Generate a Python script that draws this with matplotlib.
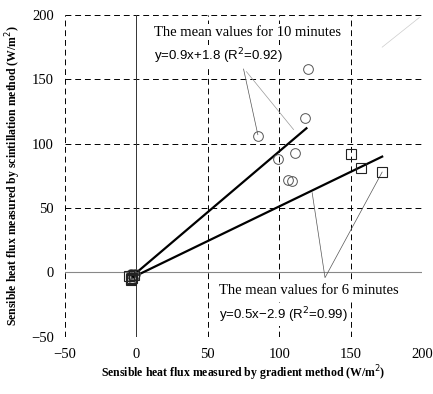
import matplotlib
matplotlib.use("Agg")
import matplotlib.pyplot as plt

# mean values for 10 minutes (circles)
x10 = [120, 118, 85, 111, 99, 106, 109, -3, -2, -4, -1, -3]
y10 = [158, 120, 106, 93, 88, 72, 71, -2, -3, -1, -1, -4]
# mean values for 6 minutes (squares)
x6 = [150, 157, 172, -4, -3, -5, -2, -4]
y6 = [92, 81, 78, -5, -4, -3, -2, -6]

# regression line end points as drawn
fit10_x = [-3, 119]
fit10_y = [-3, 112]
fit6_x = [-3, 172]
fit6_y = [-4, 90]

ticks = [-50, 0, 50, 100, 150, 200]

serif = "Liberation Serif"
sans = "Liberation Sans"

fig = plt.figure(figsize=(4.33, 3.94), dpi=100)
ax = fig.add_axes([0.150, 0.145, 0.825, 0.817])
ax.set_xlim(-50, 200)
ax.set_ylim(-50, 200)
for s in ax.spines.values():
    s.set_visible(False)

# dashed grid incl. the frame
for t in ticks:
    if t == 0:
        continue
    ax.axvline(t, color="black", lw=0.7, ls=(0, (6, 4)), zorder=1)
    ax.axhline(t, color="black", lw=0.7, ls=(0, (6, 4)), zorder=1)
ax.axvline(0, color="#333333", lw=0.7, zorder=1)
ax.axhline(0, color="#888888", lw=0.8, zorder=1)

# leader lines
ax.plot([75, 85], [158, 107], color="#555555", lw=0.5, zorder=2)
ax.plot([77, 110], [156, 111], color="#999999", lw=0.5, zorder=2)
ax.plot([123, 132, 172], [62, -4, 78], color="#555555", lw=0.5, zorder=2)
ax.plot([198, 172], [198, 175], color="#cccccc", lw=0.5, zorder=2)

ax.plot(fit10_x, fit10_y, color="black", lw=1.6, zorder=3)
ax.plot(fit6_x, fit6_y, color="black", lw=1.6, zorder=3)

ax.plot(x10, y10, "o", ms=7, mfc="none", mec="#555555", mew=0.7, zorder=4)
ax.plot(x6, y6, "s", ms=7, mfc="none", mec="#222222", mew=0.8, zorder=4)

box = dict(facecolor="white", edgecolor="none", pad=1)
ax.text(12, 184, "The mean values for 10 minutes", family=serif, fontsize=10.5,
        bbox=box, zorder=5)
ax.text(12, 165, "y=0.9x+1.8 (R$^2$=0.92)", family=sans, fontsize=9.5,
        bbox=box, zorder=5)
ax.text(58, -17, "The mean values for 6 minutes", family=serif, fontsize=10.5,
        bbox=box, zorder=5)
ax.text(58, -36, "y=0.5x\u22122.9 (R$^2$=0.99)", family=sans, fontsize=9.5,
        bbox=box, zorder=5)

ax.set_xticks(ticks)
ax.set_yticks(ticks)
ax.tick_params(length=0, pad=8)
for lab in ax.get_xticklabels() + ax.get_yticklabels():
    lab.set_family(serif)
    lab.set_fontsize(10.5)

ax.set_xlabel("Sensible heat flux measured by gradient method (W/m$^2$)",
              family=serif, fontsize=8.5, fontweight="bold", labelpad=2)
ax.set_ylabel("Sensible heat flux measured by scintillation method (W/m$^2$)",
              family=serif, fontsize=8.5, fontweight="bold", labelpad=6)

fig.savefig("out.png", dpi=100)
